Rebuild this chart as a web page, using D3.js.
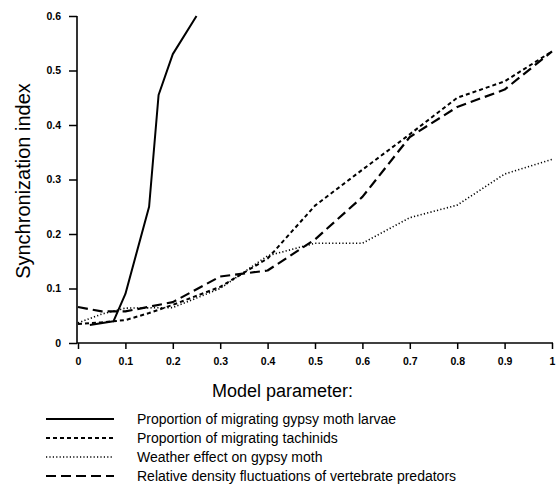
<!DOCTYPE html>
<html lang="en">
<head>
  <meta charset="UTF-8">
  <title>Synchronization index</title>
  <script src="https://d3js.org/d3.v7.min.js"></script>
  <style>
    body { margin: 0; padding: 0; background: #fff; font-family: "Liberation Sans", Arial, sans-serif; }
    svg { display: block; }
    .tick text { font-weight: bold; font-size: 10.5px; font-family: "Liberation Sans", Arial, sans-serif; }
  </style>
</head>
<body>
  <svg width="558" height="495"></svg>
  <script>
    // values
    const larvaeX = [0.025, 0.075, 0.1, 0.15, 0.17, 0.2, 0.25];
    const larvaeY = [0.033, 0.04, 0.09, 0.25, 0.455, 0.53, 0.6];

    const tachinidX = [0, 0.05, 0.1, 0.15, 0.2, 0.3, 0.4, 0.5, 0.6, 0.7, 0.8, 0.9, 1.0];
    const tachinidY = [0.035, 0.038, 0.042, 0.055, 0.07, 0.103, 0.155, 0.252, 0.318, 0.383, 0.45, 0.48, 0.535];

    const weatherX = [0, 0.05, 0.1, 0.2, 0.3, 0.4, 0.5, 0.6, 0.7, 0.8, 0.9, 1.0];
    const weatherY = [0.037, 0.053, 0.064, 0.065, 0.1, 0.16, 0.183, 0.183, 0.23, 0.253, 0.31, 0.337];

    const predatorX = [0, 0.05, 0.1, 0.2, 0.3, 0.4, 0.5, 0.6, 0.7, 0.8, 0.9, 1.0];
    const predatorY = [0.066, 0.058, 0.058, 0.075, 0.122, 0.133, 0.19, 0.268, 0.378, 0.433, 0.465, 0.535];

    const xTicks = [0, 0.1, 0.2, 0.3, 0.4, 0.5, 0.6, 0.7, 0.8, 0.9, 1];
    const yTicks = [0, 0.1, 0.2, 0.3, 0.4, 0.5, 0.6];

    const seriesNames = [
      "Proportion of migrating gypsy moth larvae",
      "Proportion of migrating tachinids",
      "Weather effect on gypsy moth",
      "Relative density fluctuations of vertebrate predators"
    ];

    const series = [
      { name: seriesNames[0], xs: larvaeX, ys: larvaeY, dash: null, w: 2 },
      { name: seriesNames[1], xs: tachinidX, ys: tachinidY, dash: "4,3", w: 2 },
      { name: seriesNames[2], xs: weatherX, ys: weatherY, dash: "1.2,2.2", w: 1.6 },
      { name: seriesNames[3], xs: predatorX, ys: predatorY, dash: "10,5", w: 2.2 }
    ];

    const svg = d3.select("svg");
    const m = { left: 78, right: 552, top: 16, bottom: 343 };

    const x = d3.scaleLinear().domain([0, 1]).range([m.left, m.right]);
    const y = d3.scaleLinear().domain([0, 0.6]).range([m.bottom, m.top]);

    const xAxis = svg.append("g")
      .attr("transform", `translate(0,${m.bottom})`)
      .call(d3.axisBottom(x).tickValues(xTicks).tickSize(6).tickPadding(9)
        .tickFormat(d => d === 0 ? "0" : d === 1 ? "1" : d3.format(".1f")(d)));
    xAxis.select(".domain").attr("stroke-width", 1.6).attr("d", `M${m.left - 1},0H${m.right + 1}`);
    xAxis.selectAll(".tick line").attr("stroke-width", 1.5);

    const yAxis = svg.append("g")
      .attr("transform", `translate(${m.left - 1},0)`)
      .call(d3.axisLeft(y).tickValues(yTicks).tickSize(8).tickPadding(8)
        .tickFormat(d => d === 0 ? "0" : d3.format(".1f")(d)));
    yAxis.select(".domain").attr("stroke-width", 1.6).attr("d", `M0,${m.top}V${m.bottom}`);
    yAxis.selectAll(".tick line").attr("stroke-width", 1.5);

    const line = d3.line().x(d => x(d[0])).y(d => y(d[1]));

    svg.append("g")
      .selectAll("path")
      .data(series)
      .join("path")
      .attr("fill", "none")
      .attr("stroke", "#000")
      .attr("stroke-width", d => d.w)
      .attr("stroke-dasharray", d => d.dash)
      .attr("stroke-linejoin", "round")
      .attr("d", d => line(d.xs.map((v, i) => [v, d.ys[i]])));

    // axis titles
    svg.append("text")
      .attr("transform", "translate(30,181) rotate(-90)")
      .attr("text-anchor", "middle")
      .attr("font-size", 20)
      .text("Synchronization index");

    svg.append("text")
      .attr("x", 212)
      .attr("y", 397)
      .attr("font-size", 18)
      .text("Model parameter:");

    // legend
    const legend = svg.append("g")
      .selectAll("g")
      .data(series)
      .join("g")
      .attr("transform", (d, i) => `translate(0,${419 + i * 19})`);

    legend.append("line")
      .attr("x1", 46).attr("x2", 114)
      .attr("stroke", "#000")
      .attr("stroke-width", d => d.w)
      .attr("stroke-dasharray", d => d.dash);

    legend.append("text")
      .attr("x", 137)
      .attr("y", 5)
      .attr("font-size", 14)
      .text(d => d.name);
  </script>
</body>
</html>
